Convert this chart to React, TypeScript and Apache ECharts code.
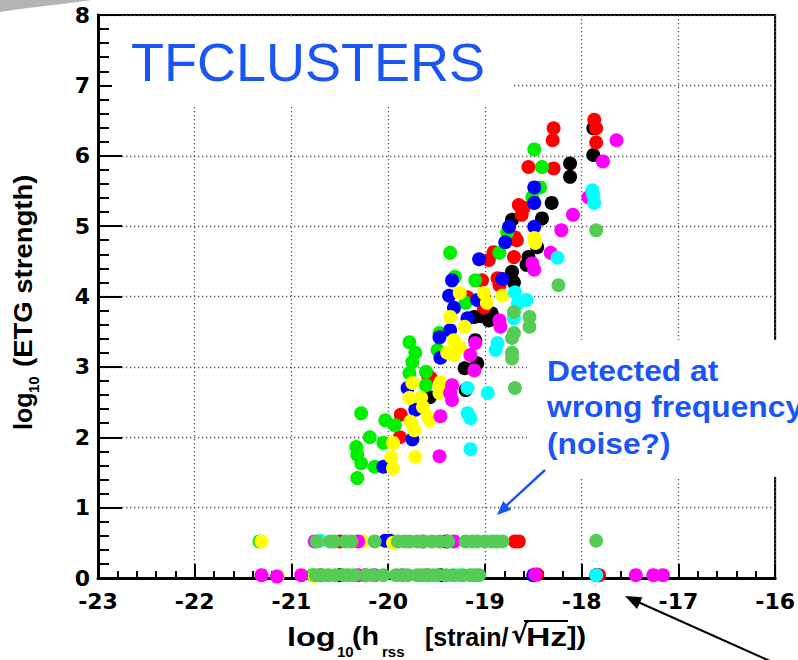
import React, { useEffect, useRef } from "react";
import * as echarts from "echarts";

// Axis ranges (log10 units)
const X_MIN = -23;
const X_MAX = -16;
const Y_MIN = 0;
const Y_MAX = 8;

// Points per injection colour: [log10(hrss), log10(ETG strength)]
const blackPts: [number, number][] = [
  [-17.88, 6.39], [-17.88, 6.01], [-18.12, 5.89], [-18.12, 5.7], [-18.31, 5.33], [-18.41, 5.11],
  [-18.46, 4.7], [-18.72, 5.09], [-18.55, 4.56], [-18.57, 4.45], [-18.72, 4.35], [-18.7, 4.2],
  [-18.93, 3.76], [-18.96, 3.66], [-19.11, 3.71], [-19.21, 2.98], [-19.08, 3.05], [-19.2, 2.67],
  [-19.1, 3.38], [-19.57, 2.57], [-19.04, 3.72],
  [-17.85, 0.04], [-19.46, 0.04], [-19.4, 0.52], [-20.5, 0.04],
];

const redPts: [number, number][] = [
  [-17.87, 6.51], [-17.85, 6.39], [-17.85, 6.19], [-18.29, 6.39], [-18.3, 6.22], [-18.55, 5.84],
  [-18.29, 5.82], [-18.65, 5.3], [-18.6, 5.26], [-18.62, 5.16], [-18.69, 4.84], [-18.7, 4.56],
  [-18.96, 4.52], [-18.87, 4.26], [-18.85, 4.16], [-19.18, 3.99], [-19.01, 3.84], [-19.01, 4.02],
  [-18.67, 4.8], [-18.91, 4.63], [-19.59, 2.88], [-19.87, 2.32], [-19.88, 2.0], [-19.03, 4.23],
  [-19.56, 2.84],
  [-18.69, 0.52], [-18.65, 0.52], [-20.5, 0.52], [-17.82, 0.04], [-20.7, 0.04], [-18.46, 0.05],
];

const greenPts: [number, number][] = [
  [-20.28, 2.34], [-20.19, 2.0], [-20.33, 1.86], [-20.32, 1.75], [-20.28, 1.63], [-20.32, 1.42],
  [-20.14, 1.58], [-20.03, 2.24], [-20.05, 1.92], [-19.93, 2.17], [-19.78, 3.35], [-19.72, 3.2],
  [-19.75, 3.07], [-19.78, 2.91], [-19.61, 2.93], [-19.61, 2.74], [-19.49, 3.24], [-19.47, 3.48],
  [-19.36, 4.62], [-19.1, 4.23], [-19.2, 3.91], [-19.31, 4.28], [-18.49, 6.09], [-18.41, 5.84],
  [-18.43, 5.55], [-18.51, 5.41], [-18.77, 4.91], [-18.85, 4.62],
  [-21.33, 0.52], [-20.78, 0.04],
];

const bluePts: [number, number][] = [
  [-18.49, 5.55], [-18.49, 5.33], [-18.75, 4.99], [-18.79, 4.77], [-18.49, 4.99], [-19.06, 4.53],
  [-18.82, 4.25], [-19.34, 4.23], [-19.37, 4.01], [-19.32, 3.84], [-19.08, 3.95], [-19.18, 3.69],
  [-19.36, 3.52], [-19.47, 3.42], [-19.46, 3.13], [-19.8, 2.7], [-19.72, 2.39], [-19.75, 1.97],
  [-20.05, 1.58],
  [-20.03, 0.53], [-19.98, 0.53], [-18.5, 0.04],
];

const yellowPts: [number, number][] = [
  [-18.49, 4.83], [-18.48, 4.76], [-18.82, 4.01], [-19.01, 4.05], [-18.98, 3.91], [-19.26, 4.05],
  [-19.36, 3.71], [-19.21, 3.57], [-19.32, 3.38], [-19.26, 3.28], [-19.32, 3.17], [-19.75, 2.77],
  [-19.78, 2.56], [-19.66, 2.56], [-19.64, 2.43], [-19.47, 2.74], [-19.47, 2.63], [-19.59, 2.29],
  [-19.77, 2.22], [-19.73, 2.1], [-19.95, 1.92], [-19.97, 1.72], [-19.95, 1.56], [-19.72, 1.72],
  [-19.57, 2.24], [-19.39, 3.2], [-19.46, 2.78],
  [-21.31, 0.52], [-20.26, 0.52], [-19.95, 0.5], [-21.14, 0.03], [-20.76, 0.03],
];

const magentaPts: [number, number][] = [
  [-17.64, 6.22], [-17.78, 5.92], [-17.93, 5.41], [-18.09, 5.16], [-18.21, 4.94], [-18.32, 4.62],
  [-18.51, 4.47], [-18.49, 4.38], [-18.85, 3.66], [-18.84, 3.57], [-19.15, 3.17], [-19.11, 2.95],
  [-19.34, 2.74], [-19.34, 2.53], [-19.36, 2.63], [-19.46, 2.3], [-19.47, 1.73], [-19.1, 3.34],
  [-20.31, 0.52], [-19.64, 0.52], [-19.32, 0.52], [-20.76, 0.52],
  [-21.31, 0.04], [-21.15, 0.02], [-20.9, 0.04], [-20.31, 0.04], [-20.24, 0.04], [-20.14, 0.04],
  [-18.48, 0.05], [-17.44, 0.04], [-17.26, 0.04], [-17.16, 0.04], [-19.6, 0.04], [-19.85, 0.04],
];

const cyanPts: [number, number][] = [
  [-17.89, 5.51], [-17.88, 5.44], [-17.87, 5.33], [-18.25, 4.55], [-18.69, 4.06], [-18.57, 3.95],
  [-18.7, 3.69], [-18.87, 3.34], [-18.89, 3.24], [-19.18, 2.7], [-18.97, 2.63], [-19.18, 2.34],
  [-19.15, 2.27], [-19.15, 1.83], [-18.66, 3.9],
  [-19.28, 0.04], [-17.85, 0.04], [-20.7, 0.53],
];

const medGreenPts: [number, number][] = [
  [-17.85, 4.94], [-18.24, 4.16], [-18.7, 3.78], [-18.54, 3.71], [-18.54, 3.57], [-18.7, 3.48],
  [-18.72, 3.41], [-18.72, 3.2], [-18.72, 3.12], [-18.69, 2.7],
  [-20.74, 0.52], [-20.44, 0.52], [-20.14, 0.52], [-19.83, 0.52], [-19.7, 0.52], [-19.64, 0.52],
  [-19.47, 0.52], [-19.78, 0.52], [-19.2, 0.52], [-19.13, 0.52], [-19.08, 0.52], [-18.93, 0.52],
  [-18.82, 0.52], [-17.85, 0.53], [-20.6, 0.52], [-20.56, 0.52], [-20.38, 0.52], [-19.9, 0.52],
  [-19.55, 0.52], [-19.38, 0.52], [-19.0, 0.52], [-18.88, 0.52],
  [-20.75, 0.04], [-20.62, 0.04], [-20.46, 0.04], [-20.41, 0.04], [-20.23, 0.04], [-20.16, 0.04],
  [-19.92, 0.04], [-19.8, 0.04], [-19.7, 0.04], [-19.59, 0.04], [-19.49, 0.04], [-19.54, 0.04],
  [-19.23, 0.04], [-19.15, 0.04], [-19.06, 0.04], [-20.55, 0.04], [-20.35, 0.04], [-20.05, 0.04],
  [-19.86, 0.04], [-19.65, 0.04], [-19.4, 0.04], [-19.33, 0.04], [-19.1, 0.04], [-20.68, 0.04],
];

const seriesDefs = [
  { name: "black", color: "#000000", data: blackPts },
  { name: "red", color: "#ff0000", data: redPts },
  { name: "green", color: "#00f000", data: greenPts },
  { name: "blue", color: "#0000ff", data: bluePts },
  { name: "yellow", color: "#ffff00", data: yellowPts },
  { name: "magenta", color: "#ff00ff", data: magentaPts },
  { name: "cyan", color: "#00ffff", data: cyanPts },
  { name: "medium green", color: "#55cc55", data: medGreenPts },
];

const BLUE_TEXT = "#1a55f5";
const LABEL_FONT = "'DejaVu Sans', 'Liberation Sans', sans-serif";
const TITLE_FONT = "Liberation Sans";

function buildOption(): echarts.EChartsOption {
  const gridLine = { color: "#555", width: 1.3, type: [1.3, 2.7] as number[] };
  const txt = (
    text: string,
    x: number,
    y: number,
    size: number,
    extra: Record<string, unknown> = {},
    family = TITLE_FONT
  ) => ({
    type: "text",
    x,
    y,
    z: 5,
    silent: true,
    ...extra,
    style: {
      text,
      fill: "#000",
      fontSize: size,
      fontWeight: "bold",
      fontFamily: family,
      align: "left",
      verticalAlign: "middle",
    },
  });
  const R = Math.PI / 2;
  return {
    animation: false,
    backgroundColor: "#ffffff",
    grid: {
      left: 98,
      right: 18,
      top: 15,
      bottom: 82,
      show: true,
      borderColor: "#000",
      borderWidth: 2,
      backgroundColor: "transparent",
    },
    xAxis: {
      type: "value",
      min: X_MIN,
      max: X_MAX,
      interval: 1,
      axisLine: { show: true, onZero: false, lineStyle: { color: "#000", width: 3 } },
      axisTick: { show: true, inside: true, length: 14, lineStyle: { color: "#000", width: 2 } },
      minorTick: { show: true, splitNumber: 5, length: 7, lineStyle: { color: "#000", width: 2 } },
      splitLine: { show: true, lineStyle: gridLine },
      axisLabel: {
        color: "#000",
        fontFamily: LABEL_FONT,
        fontWeight: "bold",
        fontSize: 22,
        lineHeight: 18,
        margin: 14,
        showMinLabel: true,
        showMaxLabel: true,
      },
    },
    yAxis: {
      type: "value",
      min: Y_MIN,
      max: Y_MAX,
      interval: 1,
      axisLine: { show: true, onZero: false, lineStyle: { color: "#000", width: 3 } },
      axisTick: { show: true, inside: true, length: 24, lineStyle: { color: "#000", width: 2 } },
      minorTick: { show: true, splitNumber: 5, length: 11, lineStyle: { color: "#000", width: 2 } },
      splitLine: { show: true, lineStyle: gridLine },
      axisLabel: {
        color: "#000",
        fontFamily: LABEL_FONT,
        fontWeight: "bold",
        fontSize: 22,
        lineHeight: 16,
        margin: 8,
        padding: [0, 0, 8, 0],
        showMinLabel: true,
        showMaxLabel: true,
      },
    },
    series: seriesDefs.map((s, i) => ({
      name: s.name,
      type: "scatter",
      data: s.data,
      symbol: "circle",
      symbolSize: 14,
      z: 2 + i * 0.01,
      itemStyle: { color: s.color, opacity: 1 },
      emphasis: { disabled: true },
      silent: true,
    })),
    graphic: [
      // slide decoration
      {
        type: "polygon",
        z: 5,
        silent: true,
        shape: { points: [[0, 0], [92, 0], [70, 3], [45, 6], [20, 9], [0, 12]] },
        style: { fill: "#b4b4b4" },
      },
      // white backgrounds of the overlaid labels
      {
        type: "rect",
        z: 1,
        silent: true,
        shape: { x: 112, y: 17, width: 400, height: 88 },
        style: { fill: "#ffffff" },
      },
      {
        type: "rect",
        z: 1,
        silent: true,
        shape: { x: 527, y: 340, width: 271, height: 137 },
        style: { fill: "#ffffff" },
      },
      {
        type: "text",
        x: 131,
        y: 62,
        z: 5,
        silent: true,
        style: {
          text: "TFCLUSTERS",
          fill: BLUE_TEXT,
          fontSize: 54,
          fontFamily: TITLE_FONT,
          align: "left",
          verticalAlign: "middle",
        },
      },
      {
        type: "text",
        x: 547,
        y: 407,
        z: 5,
        scaleX: 1.06,
        silent: true,
        style: {
          text: "Detected at\nwrong frequency\n(noise?)",
          fill: BLUE_TEXT,
          fontSize: 30,
          fontWeight: "bold",
          fontFamily: TITLE_FONT,
          lineHeight: 36.5,
          align: "left",
          verticalAlign: "middle",
        },
      },
      // blue arrow
      {
        type: "line",
        z: 5,
        silent: true,
        shape: { x1: 545, y1: 470, x2: 506, y2: 506 },
        style: { stroke: BLUE_TEXT, lineWidth: 2.5 },
      },
      {
        type: "polygon",
        z: 5,
        silent: true,
        shape: { points: [[497, 515], [511.3, 509.8], [503.1, 501.0]] },
        style: { fill: BLUE_TEXT },
      },
      // black arrow
      {
        type: "line",
        z: 5,
        silent: true,
        shape: { x1: 790, y1: 670, x2: 638, y2: 602 },
        style: { stroke: "#000", lineWidth: 2.2 },
      },
      {
        type: "polygon",
        z: 5,
        silent: true,
        shape: { points: [[625, 596], [642.4, 597.3], [637.0, 609.0]] },
        style: { fill: "#000" },
      },
      // x axis title: log10(hrss [strain/ sqrt(Hz)])
      txt("log", 287, 637, 25, { scaleX: 1.3 }),
      txt("10", 337, 651, 15),
      txt("(h", 352, 637, 25, { scaleX: 1.15 }),
      txt("rss", 382, 651, 15),
      txt("[strain/", 425, 637, 25),
      txt("√", 511, 634, 26, { scaleX: 1.0 }, "DejaVu Sans"),
      txt("Hz", 526, 637, 25, { scaleX: 1.35 }),
      txt("])", 567, 637, 25, { scaleX: 1.15 }),
      {
        type: "line",
        z: 5,
        silent: true,
        shape: { x1: 524, y1: 621, x2: 568, y2: 621 },
        style: { stroke: "#000", lineWidth: 2 },
      },
      // y axis title: log10(ETG strength)
      txt("log", 23, 430, 25, { rotation: R }),
      txt("10", 33, 393, 15, { rotation: R }),
      txt("(ETG strength)", 23, 367, 25, { rotation: R, scaleX: 1.1 }),
    ] as any,
  } as echarts.EChartsOption;
}

export default function App() {
  const ref = useRef<HTMLDivElement>(null);
  useEffect(() => {
    if (!ref.current) return;
    const chart = echarts.init(ref.current, null, { renderer: "svg" });
    chart.setOption(buildOption());
    return () => chart.dispose();
  }, []);
  return (
    <div
      ref={ref}
      style={{ position: "absolute", left: 0, top: 0, width: 798, height: 660, background: "#fff" }}
    />
  );
}
